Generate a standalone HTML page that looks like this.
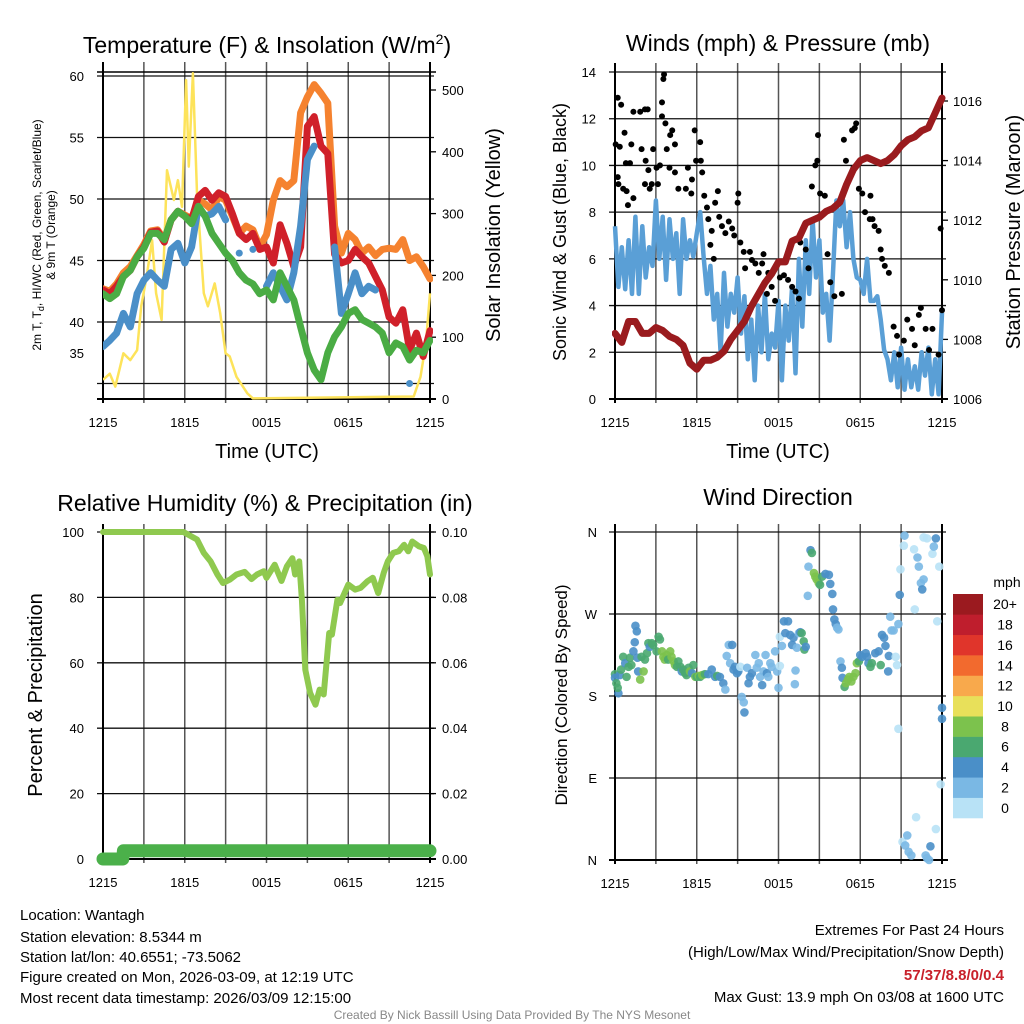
<!DOCTYPE html>
<html><head><meta charset="utf-8"><style>
html,body{margin:0;padding:0;background:#fff;}
svg{display:block;font-family:"Liberation Sans",Arial,sans-serif;}
</style></head><body>
<svg id="fig" width="1024" height="1024" viewBox="0 0 1024 1024" xmlns="http://www.w3.org/2000/svg">
<rect width="1024" height="1024" fill="#fff"/>
<g id="layer"></g>
<g font-size="23" text-anchor="middle" fill="#000">
<text x="267" y="53">Temperature (F) &amp; Insolation (W/m<tspan font-size="14" dy="-9">2</tspan><tspan dy="9">)</tspan></text>
<text x="778" y="51">Winds (mph) &amp; Pressure (mb)</text>
<text x="265" y="511">Relative Humidity (%) &amp; Precipitation (in)</text>
<text x="778" y="505">Wind Direction</text>
</g>
<g fill="#000" text-anchor="middle">
<text x="267" y="458" font-size="20">Time (UTC)</text>
<text x="778" y="458" font-size="20">Time (UTC)</text>
<text transform="translate(41,235) rotate(-90)" font-size="12">2m T, T<tspan font-size="9" dy="3">d</tspan><tspan dy="-3">, HI/WC (Red, Green, Scarlet/Blue)</tspan></text>
<text transform="translate(55,235) rotate(-90)" font-size="12">&amp; 9m T (Orange)</text>
<text transform="translate(500,235) rotate(-90)" font-size="20">Solar Insolation (Yellow)</text>
<text transform="translate(566,232) rotate(-90)" font-size="18">Sonic Wind &amp; Gust (Blue, Black)</text>
<text transform="translate(1020,232) rotate(-90)" font-size="20">Station Pressure (Maroon)</text>
<text transform="translate(42,695) rotate(-90)" font-size="20">Percent &amp; Precipitation</text>
<text transform="translate(567,695) rotate(-90)" font-size="17">Direction (Colored By Speed)</text>
</g>
<g font-size="15" fill="#000">
<text x="20" y="920">Location: Wantagh</text>
<text x="20" y="942">Station elevation: 8.5344 m</text>
<text x="20" y="962">Station lat/lon: 40.6551; -73.5062</text>
<text x="20" y="982">Figure created on Mon, 2026-03-09, at 12:19 UTC</text>
<text x="20" y="1003">Most recent data timestamp: 2026/03/09 12:15:00</text>
<text x="1004" y="935" text-anchor="end">Extremes For Past 24 Hours</text>
<text x="1004" y="957" text-anchor="end">(High/Low/Max Wind/Precipitation/Snow Depth)</text>
<text x="1004" y="980" text-anchor="end" fill="#c8202a" font-weight="bold">57/37/8.8/0/0.4</text>
<text x="1004" y="1002" text-anchor="end">Max Gust: 13.9 mph On 03/08 at 1600 UTC</text>
<text x="512" y="1019" text-anchor="middle" font-size="12" fill="#888">Created By Nick Bassill Using Data Provided By The NYS Mesonet</text>
</g>
</svg>
<script>
// ===== DATA =====
const tHours = [0,0.5,1,1.5,2,2.5,3,3.5,4,4.5,5,5.5,6,6.5,7,7.5,8,8.5,9,9.5,10,10.5,11,11.5,12,12.5,13,13.5,14,14.5,15,15.5,16,16.5,17,17.5,18,18.5,19,19.5,20,20.5,21,21.5,22,22.5,23,23.5,24];
const tempRed = [42.6,42.3,42.9,43.7,44.2,45.3,46.1,47.3,47.4,46.5,48.3,49.0,48.6,48.3,50.2,50.7,49.9,50.5,50.2,48.8,47.2,46.7,47.2,45.9,46.1,44.8,47.9,46.4,44.5,46.1,55.9,56.7,54.3,53.7,45.5,44.8,45.0,45.9,45.3,44.8,43.7,42.6,40.4,39.9,41.0,37.7,39.1,37.2,39.3];
const tempOrange = [42.7,42.5,43.1,44.0,44.5,45.4,46.3,47.4,47.5,46.7,48.3,49.0,48.7,48.4,49.9,49.6,49.1,50.2,49.9,48.6,47.2,47.8,47.5,46.1,47.1,49.9,51.5,51.0,51.5,57.0,58.3,59.3,58.6,57.8,47.8,45.6,47.2,46.7,45.6,46.1,45.4,45.9,46.0,45.9,46.7,45.0,45.3,44.5,43.5];
const tempBlue = [38.0,38.5,39.1,40.7,39.6,42.3,43.4,44.0,43.4,42.9,45.9,46.4,44.8,46.1,49.4,48.6,48.8,49.4,48.3,null,45.6,null,45.9,null,42.9,44.0,42.9,41.8,44.0,47.8,53.2,54.3,null,null,46.1,40.7,42.3,44.0,42.3,42.9,42.6,null,null,null,null,35.0,null,null,null];
const dewGreen = [42.3,41.9,42.3,43.7,44.2,45.3,46.0,47.2,47.2,46.7,48.3,49.0,48.6,48.0,49.4,48.6,47.2,46.4,45.6,45.0,44.0,43.4,43.1,42.3,42.6,41.8,44.0,42.9,41.8,39.6,37.5,36.1,35.3,37.5,38.8,39.6,40.7,41.0,40.2,39.9,39.6,39.1,37.5,38.3,38.0,36.9,37.7,37.5,38.5];
const solarHours = [0,0.5,0.9,1.5,2,2.5,2.8,3.2,3.6,3.9,4.3,4.7,5.2,5.5,5.8,6.1,6.3,6.6,6.9,7.4,7.7,8.2,8.6,9,9.3,9.8,10.6,11,22.8,23.3,23.7,24];
const solarValues = [31,41,20,74,63,79,150,198,257,171,128,370,322,354,311,516,376,527,333,171,150,187,139,74,69,36,9,1,4,36,90,171];
const tempTicks = [60,55,50,45,40,37.5];
const tempTickLabels = ["60","55","50","45","40","35"];
const tempGrid = [60,55,50,45,40,35];
const solarTicks = [0,100,200,300,400,500];
const timeTickHours = [0,6,12,18,24];
const timeTickLabels = ["1215","1815","0015","0615","1215"];

const windQuarterStamps = [0,0.25,0.5,0.75,1,1.25,1.5,1.75,2,2.25,2.5,2.75,3,3.25,3.5,3.75,4,4.25,4.5,4.75,5,5.25,5.5,5.75,6,6.25,6.5,6.75,7,7.25,7.5,7.75,8,8.25,8.5,8.75,9,9.25,9.5,9.75,10,10.25,10.5,10.75,11,11.25,11.5,11.75,12,12.25,12.5,12.75,13,13.25,13.5,13.75,14,14.25,14.5,14.75,15,15.25,15.5,15.75,16,16.25,16.5,16.75,17,17.25,17.5,17.75,18,18.25,18.5,18.75,19,19.25,19.5,19.75,20,20.25,20.5,20.75,21,21.25,21.5,21.75,22,22.25,22.5,22.75,23,23.25,23.5,23.75,24];
const windSpeed = [7.4,4.8,6.5,4.7, 6.8,4.5,7.8,4.5, 7.4,5.2,6.5,5.7, 8.5,6.0,7.8,5.1, 7.7,6.0,7.1,4.5, 7.7,6.0,6.8,6.1, 7.1,8.0,6.1,4.5, 5.7,3.4,4.5,2.0, 5.4,3.1,4.5,3.7, 5.2,2.8,4.4,1.7, 3.4,0.8,4.0,2.0, 4.5,1.7,2.8,2.2, 4.2,0.8,4.0,2.5, 4.8,1.1,6.0,3.1, 6.8,4.5,7.7,5.2, 6.8,3.7,4.5,2.5, 5.4,8.5,7.4,8.5, 6.5,8.0,6.0,5.2, 5.1,4.5,6.0,4.2, 4.2,4.4,3.4,2.1, 1.7,0.8,2.0,0.5, 2.2,0.4,1.7,0.5, 1.4,0.4,2.0,1.0, 2.2,0.2,1.7,0.2, 3.7];
const gustHours = [0.05,0.2,0.2,0.25,0.45,0.35,0.7,0.6,0.85,0.8,0.95,1.1,1.2,1.35,1.35,1.85,2.2,2.4,1.95,2.25,2.2,2.55,2.7,2.45,2.8,3.05,3.3,3.15,3.45,3.55,3.6,3.45,3.7,3.8,4.05,4.2,4.4,4.4,4.0,4.65,5.2,5.35,5.65,5.6,5.85,5.95,6.25,6.3,6.4,6.55,6.75,6.85,7.0,7.1,7.25,7.35,7.55,7.65,7.85,8.1,8.35,8.6,8.75,9.0,9.05,9.2,9.45,9.55,9.9,10.05,10.3,10.55,10.8,10.9,11.15,11.25,11.5,11.75,12.1,12.4,12.7,13.0,13.25,13.5,13.6,14.0,14.2,14.45,14.7,14.85,14.9,15.05,15.4,15.6,15.8,16.1,16.65,16.8,16.95,17.4,17.6,17.7,17.5,17.9,18.15,18.35,18.75,18.7,18.9,19.05,19.35,19.5,19.6,19.8,20.1,20.45,20.7,20.85,21.2,21.45,21.8,22.0,22.3,22.45,22.8,23.05,23.3,23.75,23.9,24.0];
const gustSpeed = [10.9,12.9,9.5,9.2,12.6,10.8,11.4,9.0,8.9,10.1,8.3,10.1,10.9,8.6,12.3,12.3,12.4,12.4,10.7,10.2,9.2,9.0,9.2,9.8,10.7,9.9,10.0,9.2,12.7,13.7,13.9,12.1,11.8,10.7,11.3,11.5,10.9,9.7,9.9,9.0,9.0,9.9,9.4,8.8,11.5,10.2,11.0,10.2,9.7,8.7,8.2,7.7,6.6,7.2,6.0,8.4,8.9,7.8,7.4,7.1,7.6,7.3,7.0,8.4,8.8,6.7,6.3,5.6,6.3,5.95,5.8,5.4,5.8,6.2,4.5,5.4,4.8,4.2,5.2,5.3,5.1,4.8,4.6,4.3,6.7,6.4,5.6,9.1,10.0,10.2,11.3,8.8,8.7,6.2,5.0,4.4,4.5,11.1,10.2,11.5,11.6,11.8,9.9,9.0,8.8,8.0,8.7,7.7,7.7,7.4,7.2,6.4,6.0,5.7,5.4,3.1,2.7,1.9,2.5,3.4,3.0,2.3,3.6,3.9,3.0,2.1,3.0,1.9,7.3,3.8];
const pressure = [1008.2,1007.9,1008.6,1008.6,1008.2,1008.2,1008.4,1008.3,1008.1,1008.0,1007.8,1007.2,1007.0,1007.3,1007.3,1007.4,1007.6,1008.0,1008.3,1008.6,1009.1,1009.5,1009.9,1010.2,1010.6,1010.6,1011.3,1011.4,1011.9,1012.0,1012.1,1012.3,1012.4,1012.6,1013.2,1013.7,1014.0,1014.1,1014.0,1013.9,1014.0,1014.2,1014.5,1014.7,1014.8,1015.0,1015.1,1015.6,1016.1];
const windTicks = [0,2,4,6,8,10,12,14];
const pressureTicks = [1006,1008,1010,1012,1014,1016];

const rhHours = [0,1,2,3,4,5,5.9,6.9,7.4,7.9,8.4,8.8,9.3,9.8,10.4,10.9,11.3,11.8,12.0,12.6,13.1,13.5,13.9,14.1,14.4,14.6,14.85,15.2,15.6,15.9,16.2,16.6,16.8,17.2,17.4,18.0,18.5,18.9,19.4,19.8,20.2,20.6,20.9,21.3,21.7,22.1,22.4,22.7,23.2,23.55,23.8,24];
const rhValues = [100,100,100,100,100,100,100,97.7,93.6,91,87,84.4,85.4,87,87.8,85.6,87,88,86,90,85,89.5,92,87,91,79.3,57.9,50.8,47.2,51.8,50.3,69.1,68.6,79.3,78.3,83.9,82.4,82.9,84.9,86,81.3,87.5,91,93.6,94.1,96.1,94.1,97.1,95.6,95.1,92.6,87];
const precipHours = [0,1.45,1.5,24];
const precipValues = [0,0,0.0025,0.0025];
const rhTicks = [0,20,40,60,80,100];
const precipTicks = [0,0.02,0.04,0.06,0.08,0.10];
const precipTickLabels = ["0.00","0.02","0.04","0.06","0.08","0.10"];

const dirHours = [0,0,0.1,0.25,0.2,0.35,0.45,0.6,0.75,0.85,1.0,1.1,1.2,1.35,1.45,1.5,1.6,1.65,1.7,1.85,2.1,1.95,2.2,2.35,2.45,2.55,2.7,2.8,3.05,3.2,3.3,3.45,3.55,3.65,3.8,3.9,4.05,4.15,4.3,4.4,4.55,4.65,4.8,4.9,5.0,5.15,5.25,5.4,5.5,5.65,5.75,5.9,6.0,6.15,6.25,6.4,6.6,6.85,7.1,7.35,7.5,7.7,7.95,8.1,8.2,8.35,8.6,8.45,8.7,8.8,8.95,9.05,9.2,9.3,9.45,9.5,9.7,9.8,9.9,10.05,10.3,10.4,10.55,10.65,10.8,10.9,11.05,11.15,11.25,11.4,11.5,11.75,11.9,12.0,12.1,12.1,12.25,12.4,12.5,12.7,12.85,13.0,13.1,13.2,13.25,13.35,13.5,13.6,13.7,13.85,13.9,14.0,14.15,14.2,14.35,14.45,14.6,14.7,14.8,14.95,15.05,15.2,15.45,15.7,15.8,15.95,16.0,16.1,16.2,16.3,16.4,16.55,16.65,16.7,16.85,16.95,17.1,17.2,17.35,17.5,17.65,17.75,17.9,18.0,18.15,18.4,18.5,18.6,18.75,18.85,19.1,19.35,19.5,19.6,19.75,19.85,20.05,20.1,20.2,20.3,20.45,20.6,20.7,20.8,20.9,20.95,21.2,21.25,20.8,21.1,21.3,21.45,21.55,21.75,21.95,22.0,22.1,22.2,22.3,22.45,22.55,22.65,22.8,22.9,23.05,23.15,23.3,23.4,23.55,23.55,23.65,23.8,23.9,24.0,24.0,22.9,22.65];
const dirDegrees = [204,200,194,183,189,203,209,223,216,201,212,222,214,229,239,257,251,222,207,198,207,223,220,227,238,234,238,236,229,245,242,229,223,220,225,220,229,223,218,214,212,218,212,207,209,205,203,211,207,205,214,201,201,202,201,203,204,204,209,201,202,201,194,187,224,236,236,216,209,212,205,207,212,179,173,162,211,194,201,205,225,211,216,201,192,207,225,205,201,216,212,229,207,189,213,245,235,262,249,262,247,236,244,193,208,233,249,250,249,240,231,234,290,322,340,337,315,311,308,304,302,311,314,313,303,292,275,264,259,255,253,218,211,200,190,194,198,201,196,201,205,216,218,225,223,227,223,216,212,216,227,229,214,247,244,235,207,224,267,252,252,223,214,259,291,319,345,356,144,20,16,27,9,5,341,275,47,332,322,304,297,308,5,2,0,15,336,344,353,34,262,322,83,167,155,353,354];
const dirSpeed = [7,5,7,5,7,5,7,7,5,7,7,7,7,5,5,5,5,5,5,9,9,7,7,7,7,5,7,7,7,7,7,9,9,9,9,7,9,9,9,9,7,7,7,5,7,7,7,7,9,5,7,9,7,9,7,9,7,5,5,5,7,5,5,3,3,3,5,3,5,5,5,5,1,3,3,5,3,5,5,5,3,3,3,3,5,3,3,5,3,3,3,3,3,3,1,1,3,5,5,5,5,5,5,3,3,3,3,5,7,7,7,5,3,3,5,7,9,9,9,9,7,7,5,5,5,5,5,5,5,3,3,3,5,5,7,9,9,9,9,9,9,9,7,5,5,5,5,5,7,7,5,5,7,5,5,5,5,5,3,3,3,1,1,3,5,1,1,3,1,1,3,3,3,3,1,1,1,3,3,3,5,3,3,3,3,5,1,3,5,1,1,1,1,5,5,1,1];
const dirTicks = [0,90,180,270,360];
const dirTickLabels = ["N","E","S","W","N"];
const speedBins = ["0","2","4","6","8","10","12","14","16","18","20+"];
const speedColors = ["#b8e2f6","#7ab8e4","#4a8fc8","#4aa870","#7cc24d","#e8e05a","#f8a94c","#f26a2e","#e0352b","#bf1e2d","#9b1a1f"];

// ===== HELPERS =====
const NS = "http://www.w3.org/2000/svg";
const layer = document.getElementById("layer");
function el(tag, attrs, parent) {
  const e = document.createElementNS(NS, tag);
  for (const k in attrs) e.setAttribute(k, attrs[k]);
  (parent || layer).appendChild(e);
  return e;
}
function group(name) {
  const g = el("g", {});
  
  
  return g;
}
function linScale(d0, d1, r0, r1) { return v => r0 + (v - d0) * (r1 - r0) / (d1 - d0); }

function drawFrame(name, xs, x0, x1, yTop, yBot, hGridYs) {
  const g = group(name);
  for (let h = 3; h < 24; h += 3) {
    const l = el("line", {x1: xs(h), x2: xs(h), y1: yTop, y2: yBot + 4, stroke: "#555", "stroke-width": 1.5}, g);
    
    
  }
  hGridYs.forEach(y => {
    const l = el("line", {x1: x0 - 6, x2: x1 + 4, y1: y, y2: y, stroke: "#111", "stroke-width": 1.3}, g);
    
    
  });
  const ax = [[x0, yTop, x0, yBot + 4], [x1, yTop, x1, yBot + 4], [x0 - 6, yBot, x1 + 6, yBot]];
  ax.forEach(a => {
    const l = el("line", {x1: a[0], y1: a[1], x2: a[2], y2: a[3], stroke: "#000", "stroke-width": 2}, g);
    
    
  });
  timeTickHours.forEach((h, i) => {
    const t = el("text", {x: xs(h), y: yBot + 28, "font-size": 13, "text-anchor": "middle"}, g);
    
    
    t.textContent = timeTickLabels[i];
  });
}
function yLabels(name, ys, vals, labels, x, anchor, size) {
  const g = group(name);
  vals.forEach((v, i) => {
    const t = el("text", {x: x, y: ys(v) + 5, "font-size": size || 13, "text-anchor": anchor}, g);
    
    
    t.textContent = labels[i];
  });
}
function rightTicks(ys, vals, x, g) {
  vals.forEach(v => {
    const l = el("line", {x1: x, x2: x + 6, y1: ys(v), y2: ys(v), stroke: "#000", "stroke-width": 1.3}, g);
    
    
  });
}
function pathFrom(xs, ys, hours, vals) {
  let d = "", pen = false;
  hours.forEach((h, i) => {
    const v = vals[i];
    if (v === null || v === undefined) { pen = false; return; }
    d += (pen ? "L" : "M") + xs(h).toFixed(1) + "," + ys(v).toFixed(1);
    pen = true;
  });
  return d;
}

// ===== PANEL 1: TEMPERATURE =====
const x1s = linScale(0, 24, 103, 430);
const yT = linScale(40, 60, 322, 76);
const yS = linScale(0, 500, 399, 90);
drawFrame("temp-frame", x1s, 103, 430, 62, 399, tempGrid.map(yT));
const topLine = el("line", {x1: 97, x2: 436, y1: 72, y2: 72, stroke: "#000", "stroke-width": 1.5});


yLabels("temp-y-ticks", yT, tempTicks, tempTickLabels, 84, "end");
const sg = group("solar-y-ticks");
rightTicks(yS, solarTicks, 430, sg);
yLabels("solar-y-labels", yS, solarTicks, solarTicks.map(String), 442, "start");
const cp1 = el("clipPath", {id: "cp1"}); el("rect", {x: 103, y: 60, width: 330, height: 342}, cp1);
const tg = group("temp-series"); tg.setAttribute("clip-path", "url(#cp1)");
const solarLine = el("path", {d: pathFrom(x1s, yS, solarHours, solarValues), fill: "none", stroke: "#fde35a", "stroke-width": 2.5, "stroke-linejoin": "round"}, tg);


const orangeLine = el("path", {d: pathFrom(x1s, yT, tHours, tempOrange), fill: "none", stroke: "#f5822f", "stroke-width": 7, "stroke-linejoin": "round", "stroke-linecap": "round"}, tg);


const redLine = el("path", {d: pathFrom(x1s, yT, tHours, tempRed), fill: "none", stroke: "#d0202a", "stroke-width": 7, "stroke-linejoin": "round", "stroke-linecap": "round"}, tg);


const blueLine = el("path", {d: pathFrom(x1s, yT, tHours, tempBlue), fill: "none", stroke: "#4a8fc8", "stroke-width": 7, "stroke-linejoin": "round", "stroke-linecap": "round"}, tg);


tHours.forEach((h, i) => {
  const prev = i > 0 ? tempBlue[i - 1] : null, next = i < tHours.length - 1 ? tempBlue[i + 1] : null;
  if (tempBlue[i] !== null && prev === null && next === null) {
    const c = el("circle", {cx: x1s(h), cy: yT(tempBlue[i]), r: 3.5, fill: "#4a8fc8"}, tg);
    
    
  }
});
const greenLine = el("path", {d: pathFrom(x1s, yT, tHours, dewGreen), fill: "none", stroke: "#4aac44", "stroke-width": 7, "stroke-linejoin": "round", "stroke-linecap": "round"}, tg);



// ===== PANEL 2: WINDS =====
const x2s = linScale(0, 24, 615, 942);
const yW = linScale(0, 14, 399, 72);
const yP = linScale(1006, 1016, 399, 101);
drawFrame("wind-frame", x2s, 615, 942, 63, 399, windTicks.slice(1).map(yW));
yLabels("wind-y-ticks", yW, windTicks, windTicks.map(String), 596, "end");
const pg = group("pressure-y-ticks");
rightTicks(yP, pressureTicks, 942, pg);
yLabels("pressure-y-labels", yP, pressureTicks, pressureTicks.map(String), 953, "start");
const cp2 = el("clipPath", {id: "cp2"}); el("rect", {x: 612, y: 60, width: 334, height: 342}, cp2);
const wg = group("wind-series"); wg.setAttribute("clip-path", "url(#cp2)");
const windLine = el("path", {d: pathFrom(x2s, yW, windQuarterStamps, windSpeed), fill: "none", stroke: "#5a9fd6", "stroke-width": 4.5, "stroke-linejoin": "round"}, wg);


gustHours.forEach((h, i) => {
  const c = el("circle", {cx: x2s(h), cy: yW(gustSpeed[i]), r: 3, fill: "#000"}, wg);
  
  
});
const presLine = el("path", {d: pathFrom(x2s, yP, tHours, pressure), fill: "none", stroke: "#9a1b1e", "stroke-width": 7, "stroke-linejoin": "round", "stroke-linecap": "round"}, wg);



// ===== PANEL 3: RH =====
const yRH = linScale(0, 100, 859, 532);
const yPr = linScale(0, 0.1, 859, 532);
drawFrame("rh-frame", x1s, 103, 430, 524, 859, rhTicks.slice(1).map(yRH));
yLabels("rh-y-ticks", yRH, rhTicks, rhTicks.map(String), 84, "end");
const prg = group("precip-y-ticks");
rightTicks(yPr, precipTicks, 430, prg);
yLabels("precip-y-labels", yPr, precipTicks, precipTickLabels, 442, "start");
const rg = group("rh-series");
const precipLine = el("path", {d: pathFrom(x1s, yPr, precipHours, precipValues), fill: "none", stroke: "#4bb04a", "stroke-width": 13, "stroke-linejoin": "round", "stroke-linecap": "round"}, rg);


const rhLine = el("path", {d: pathFrom(x1s, yRH, rhHours, rhValues), fill: "none", stroke: "#8fc94f", "stroke-width": 6, "stroke-linejoin": "round", "stroke-linecap": "round"}, rg);



// ===== PANEL 4: DIRECTION =====
const yD = linScale(0, 360, 860, 532);
drawFrame("dir-frame", x2s, 615, 942, 524, 860, dirTicks.map(yD));
yLabels("dir-y-ticks", yD, dirTicks, dirTickLabels, 597, "end");
const dg = group("direction-points");
dirHours.forEach((h, i) => {
  const idx = Math.min(10, Math.floor(dirSpeed[i] / 2));
  const c = el("circle", {cx: x2s(h), cy: yD(dirDegrees[i]), r: 4.3, fill: speedColors[idx], "fill-opacity": 0.9}, dg);
  
  
});
const cb = group("speed-colorbar");
const cbTop = 594, cbH = 224 / speedBins.length;
speedBins.forEach((lab, i) => {
  const y = cbTop + (speedBins.length - 1 - i) * cbH;
  const r = el("rect", {x: 953, y: y, width: 30, height: cbH + 0.3, fill: speedColors[i]}, cb);
  
  
  const t = el("text", {x: 1005, y: y + cbH / 2 + 5, "font-size": 14, "text-anchor": "middle"}, cb);
  
  
  t.textContent = lab;
});
const mph = el("text", {x: 1007, y: 587, "font-size": 14, "text-anchor": "middle"}, cb);


mph.textContent = "mph";
</script>
</body></html>
